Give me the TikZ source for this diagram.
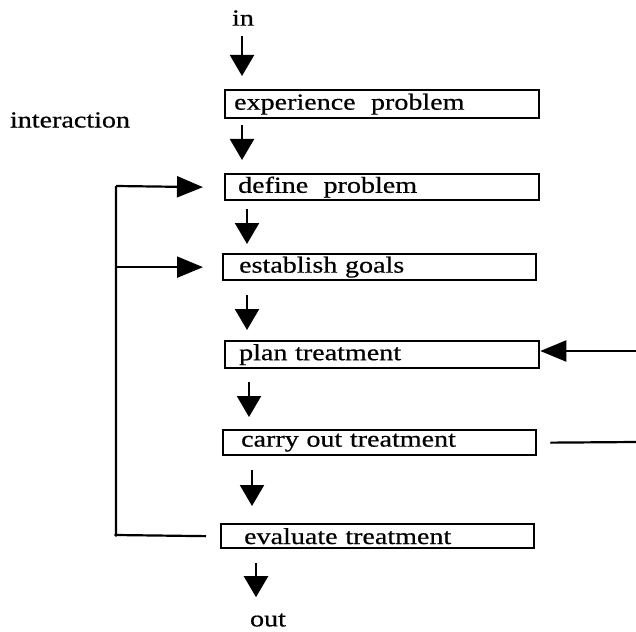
\documentclass[tikz,border=0pt]{standalone}
\usepackage{fontspec}
\setmainfont[FakeStretch=1.22,FakeBold=0.6]{Liberation Serif}
\usetikzlibrary{arrows.meta,calc}
\begin{document}
\begin{tikzpicture}[x=1pt,y=-1pt,
  every node/.style={font=\fontsize{23}{26}\selectfont},
  freelabel/.style={inner sep=0pt},
  stagebox/.style={draw, line width=2.3pt, anchor=north west, align=left,
    inner ysep=0pt, minimum height=#1},
  plainline/.style={line width=2.2pt},
  downarrow/.style={line width=2.2pt, -{Triangle[length=21pt,width=24pt]}},
  sidearrow/.style={line width=2.2pt, -{Triangle[length=26pt,width=21pt]}}]
\useasboundingbox (0,0) rectangle (636,631);

% process stages
\node[stagebox=28pt, inner xsep=9pt,  text width=296pt] (exp)   at (224,89)  {experience\ \ problem};
\node[stagebox=26pt, inner xsep=13pt, text width=288pt] (def)   at (224,173) {define\ \ problem};
\node[stagebox=26pt, inner xsep=16pt, text width=281pt] (est)   at (222,253) {establish goals};
\node[stagebox=27pt, inner xsep=14pt, text width=286pt] (plan)  at (224,340) {plan treatment};
\node[stagebox=25pt, inner xsep=18pt, text width=277pt] (carry) at (222,429) {carry out treatment};
\node[stagebox=24pt, inner xsep=23pt, text width=267pt] (eval)  at (220,523) {evaluate treatment};

% free labels
\node[freelabel] (in)  at (243,18)  {in};
\node[freelabel] (out) at (268,620) {out};
\node[freelabel] (int) at (70,120)  {interaction};

% main flow
\draw[downarrow] ([xshift=-1pt,yshift=-10pt]in.south) -- ([xshift=18pt,yshift=13pt]exp.north west);
\draw[downarrow] ([xshift=18pt,yshift=-6pt]exp.south west)   -- ([xshift=18pt,yshift=13pt]def.north west);
\draw[downarrow] ([xshift=23pt,yshift=-8pt]def.south west)   -- ([xshift=25pt,yshift=9pt]est.north west);
\draw[downarrow] ([xshift=25pt,yshift=-14pt]est.south west)  -- ([xshift=23pt,yshift=10pt]plan.north west);
\draw[downarrow] ([xshift=25pt,yshift=-13pt]plan.south west) -- ([xshift=27pt,yshift=12pt]carry.north west);
\draw[downarrow] ([xshift=30pt,yshift=-14pt]carry.south west)-- ([xshift=32pt,yshift=17pt]eval.north west);
\draw[downarrow] ([xshift=36pt,yshift=-14pt]eval.south west) -- ([xshift=-12pt,yshift=16pt]out.north);

% feedback loop
\coordinate (lt) at (116,186);
\coordinate (lb) at (116,535);
\draw[plainline] ([xshift=-14pt]eval.west) -- (lb) -- (lt);
\fill (lb) circle (1.8pt);
\draw[sidearrow] (lt) -- ([xshift=-21pt]def.west);
\draw[sidearrow] (lt |- est.west) -- ([xshift=-19pt]est.west);

% links leaving to the right
\coordinate (rin)  at (636,351);
\coordinate (rout) at (636,442);
\draw[sidearrow] (rin) -- (rin -| plan.east);
\draw[plainline] ([xshift=13pt]carry.east) -- (rout);
\end{tikzpicture}
\end{document}
